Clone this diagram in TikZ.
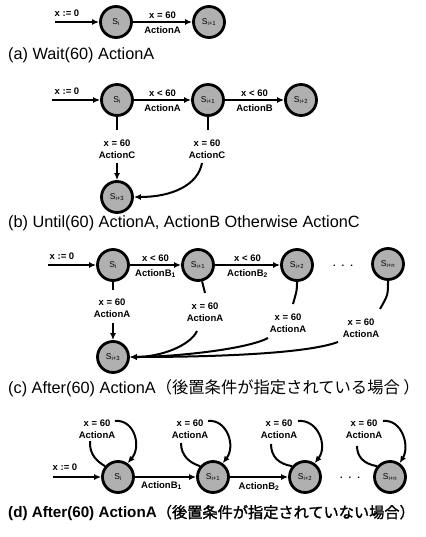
\documentclass[tikz,border=0pt]{standalone}
\usepackage{fontspec}
\setmainfont{Liberation Sans}
\newfontfamily\jpfont[AutoFakeBold=1.5]{Noto Sans CJK JP}
\usetikzlibrary{arrows.meta}
\begin{document}
\begin{tikzpicture}[x=1pt,y=-1pt,
  st/.style={circle, draw=black, line width=2.8pt, fill=gray!62, minimum size=31pt, inner sep=0pt, font=\fontsize{8.5}{8.5}\selectfont},
  lab/.style={font=\fontsize{9.5}{11.5}\selectfont\bfseries, inner sep=1.5pt, align=center},
  captxt/.style={font=\fontsize{16.3}{18}\selectfont, anchor=west, inner sep=0pt},
  ar/.style={line width=2pt, -{Latex[length=7pt,width=6pt]}},
  ln/.style={line width=2pt},
]
\useasboundingbox (0,0) rectangle (425,537);

% ---------- (a)
\coordinate (a0) at (55,22);
\node[st] (a1) at (116,22) {S\textsubscript{i}};
\node[st] (a2) at (209,22) {S\textsubscript{i+1}};
\node[lab] (ax) at (67,13) {x := 0};
\draw[ar] (a0) -- (a1);
\draw[ar] (a1) -- node[lab, above=1pt] (alu) {x = 60} node[lab, below=2pt] (ald) {ActionA} (a2);
\node[captxt] (acap) at (8,55) {(a) Wait(60) ActionA};

% ---------- (b)
\coordinate (b0) at (52,100);
\node[lab] (bx) at (67,91) {x := 0};
\node[st] (b1) at (117,100) {S\textsubscript{i}};
\node[st] (b2) at (208,100) {S\textsubscript{i+1}};
\node[st] (b3) at (301,100) {S\textsubscript{i+2}};
\node[st] (b4) at (117,197) {S\textsubscript{i+3}};
\draw[ar] (b0) -- (b1);
\draw[ar] (b1) -- node[lab, above=1pt] {x < 60} node[lab, below=2pt] {ActionA} (b2);
\draw[ar] (b2) -- node[lab, above=1pt] {x < 60} node[lab, below=2pt] {ActionB} (b3);
\node[lab] (bl1) at (117,149) {x = 60\\ActionC};
\node[lab] (bl2) at (207,149) {x = 60\\ActionC};
\coordinate (bt1) at (117,130);
\coordinate (bt2) at (208,130);
\coordinate (bs1) at (117,163);
\coordinate (bs2) at (202,163);
\draw[ln] (b1) -- (bt1);
\draw[ln] (b2) -- (bt2);
\draw[ar] (bs1) -- (b4);
\draw[ar] (bs2) .. controls (198,185) and (172,197) .. (b4.east);
\node[captxt] (bcap) at (8,223) {(b) Until(60) ActionA, ActionB Otherwise ActionC};

% ---------- (c)
\coordinate (c0) at (48,265);
\node[lab] (cx) at (62,256) {x := 0};
\node[st] (c1) at (113,265) {S\textsubscript{i}};
\node[st] (c2) at (198,265) {S\textsubscript{i+1}};
\node[st] (c3) at (297,265) {S\textsubscript{i+2}};
\node[st] (cn) at (388,264) {S\textsubscript{i+n}};
\node[st] (c4) at (113,357) {S\textsubscript{i+3}};
\node[lab] (cdots) at (343,266) {.\hspace{6pt}.\hspace{6pt}.};
\draw[ar] (c0) -- (c1);
\draw[ar] (c1) -- node[lab, above=1pt] {x < 60} node[lab, below=2pt] {ActionB\textsubscript{1}} (c2);
\draw[ar] (c2) -- node[lab, above=1pt] {x < 60} node[lab, below=2pt] {ActionB\textsubscript{2}} (c3);
\node[lab] (cl1) at (112,308) {x = 60\\ActionA};
\node[lab] (cl2) at (205,312) {x = 60\\ActionA};
\node[lab] (cl3) at (288,323) {x = 60\\ActionA};
\node[lab] (cln) at (361,328) {x = 60\\ActionA};
\coordinate (ct1) at (113,290);
\coordinate (ct2) at (205,293);
\coordinate (ct3) at (293,304);
\coordinate (ctn) at (380,309);
\coordinate (cs1) at (113,323);
\coordinate (cs2) at (197,331);
\coordinate (cs3) at (268,338);
\coordinate (csn) at (338,342);
\draw[ln] (c1) -- (ct1);
\draw[ln] (c2) -- (ct2);
\draw[ln] (c3.south) .. controls (297,290) .. (ct3);
\draw[ln] (cn.south) .. controls (388,295) .. (ctn);
\draw[ar] (cs1) -- (c4);
\draw[ar] (cs2) .. controls (190,346) and (160,357) .. (c4.east);
\draw[ar] (cs3) .. controls (245,350) and (170,357) .. (c4.east);
\draw[ar] (csn) .. controls (300,356) and (180,357) .. (c4.east);
\node[captxt] (ccap) at (8,388) {(c) After(60) ActionA{\jpfont （後置条件が指定されている場合 ）}};

% ---------- (d)
\coordinate (d0) at (53,477);
\node[lab] (dx) at (65,467) {x := 0};
\node[st] (d1) at (118,477) {S\textsubscript{i}};
\node[st] (d2) at (213,477) {S\textsubscript{i+1}};
\node[st] (d3) at (305,477) {S\textsubscript{i+2}};
\node[st] (dn) at (390,477) {S\textsubscript{i+n}};
\node[lab] (ddots) at (350,478) {.\hspace{6pt}.\hspace{6pt}.};
\draw[ar] (d0) -- (d1);
\draw[ar] (d1) -- node[lab, below=2pt, xshift=-4pt] {ActionB\textsubscript{1}} (d2);
\draw[ar] (d2) -- node[lab, below=3pt] {ActionB\textsubscript{2}} (d3);
% self loops
\node[lab] (dl1) at (97,429) {x = 60\\ActionA};
\node[lab] (dl2) at (190,429) {x = 60\\ActionA};
\node[lab] (dl3) at (279,429) {x = 60\\ActionA};
\node[lab] (dln) at (364,429) {x = 60\\ActionA};
\coordinate (dp1) at (90,441);  \coordinate (dq1) at (115,421);
\coordinate (dp2) at (181,443); \coordinate (dq2) at (208,421);
\coordinate (dp3) at (271,444); \coordinate (dq3) at (298,421);
\coordinate (dpn) at (357,446); \coordinate (dqn) at (383,421);
\draw[ln] (dp1) .. controls (89,455) and (98,462) .. (d1.140);
\draw[ar] (dq1) .. controls (134,419) and (142,446) .. (d1.55);
\draw[ln] (dp2) .. controls (181,456) and (190,463) .. (d2.140);
\draw[ar] (dq2) .. controls (227,419) and (236,446) .. (d2.55);
\draw[ln] (dp3) .. controls (271,457) and (279,464) .. (d3.140);
\draw[ar] (dq3) .. controls (318,419) and (328,446) .. (d3.55);
\draw[ln] (dpn) .. controls (357,457) and (364,464) .. (dn.140);
\draw[ar] (dqn) .. controls (402,419) and (410,446) .. (dn.55);
\node[captxt, font=\fontsize{15.2}{17}\selectfont\bfseries] (dcap) at (8,513) {(d) After(60) ActionA{\jpfont （後置条件が指定されていない場合）}};
\end{tikzpicture}
\end{document}
